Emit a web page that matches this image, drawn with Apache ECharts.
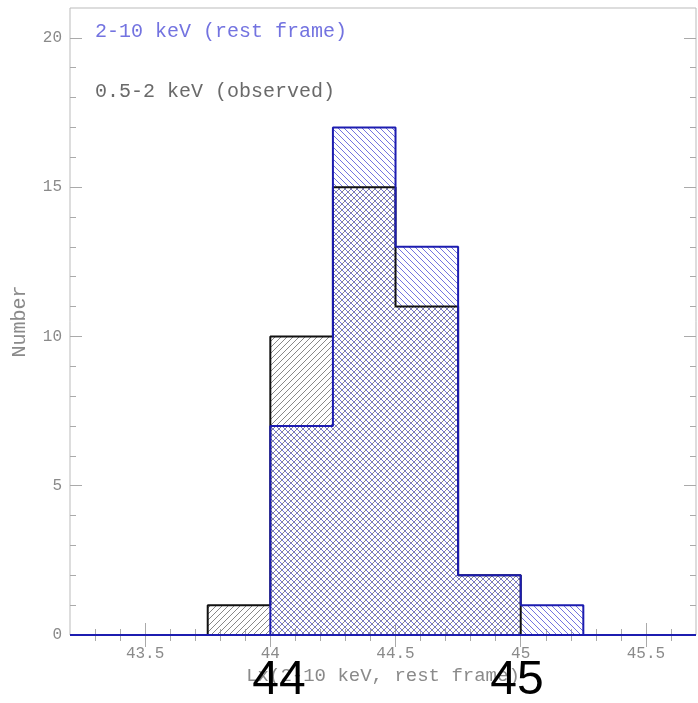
<!DOCTYPE html>
<html><head><meta charset="utf-8">
<script src="https://cdn.jsdelivr.net/npm/echarts@6/dist/echarts.min.js"></script>
<style>html,body{margin:0;padding:0;background:#fff}#c{width:698px;height:703px}</style>
</head><body><div id="c"></div>
<script>
// ---- data ----
const binLeft = [43.75, 44.0, 44.25, 44.5, 44.75, 45.0];
const binWidth = 0.25;
const observedCounts = [1, 10, 15, 11, 2, 0];   // 0.5-2 keV (observed)
const restFrameCounts = [0, 7, 17, 13, 2, 1];   // 2-10 keV (rest frame)
const xMajorTicks = [43.5, 44, 44.5, 45, 45.5];
const xMinorTicks = [43.3, 43.4, 43.5, 43.6, 43.7, 43.8, 43.9, 44, 44.1, 44.2, 44.3, 44.4, 44.5,
  44.6, 44.7, 44.8, 44.9, 45, 45.1, 45.2, 45.3, 45.4, 45.5, 45.6];
const yMajorTicks = [0, 5, 10, 15, 20];
const yMinorTicks = [1, 2, 3, 4, 5, 6, 7, 8, 9, 10, 11, 12, 13, 14, 15, 16, 17, 18, 19, 20];
const xMin = 43.2, xMax = 45.7, yMin = 0, yMax = 21;
const legendLabels = ['2-10 keV (rest frame)', '0.5-2 keV (observed)'];
const xTitle = 'Lx(2-10 keV, rest frame)';
const yTitle = 'Number';
const stray = ['44', '45'];

function stepPoints(counts) {
  const pts = [[xMin, 0]];
  let prev = 0;
  counts.forEach((c, i) => {
    const x0 = binLeft[i];
    pts.push([x0, prev]);
    pts.push([x0, c]);
    prev = c;
  });
  const lastRight = binLeft[binLeft.length - 1] + binWidth;
  pts.push([lastRight, prev]);
  pts.push([lastRight, 0]);
  pts.push([xMax, 0]);
  return pts;
}

function hatch(color, dir, size, lw) {
  const c = document.createElement('canvas');
  c.width = c.height = size;
  const g = c.getContext('2d');
  g.strokeStyle = color; g.lineWidth = lw;
  g.beginPath();
  if (dir > 0) {
    g.moveTo(0, size); g.lineTo(size, 0);
    g.moveTo(-size / 2, size / 2); g.lineTo(size / 2, -size / 2);
    g.moveTo(size / 2, size * 1.5); g.lineTo(size * 1.5, size / 2);
  } else {
    g.moveTo(0, 0); g.lineTo(size, size);
    g.moveTo(-size / 2, size / 2); g.lineTo(size / 2, size * 1.5);
    g.moveTo(size / 2, -size / 2); g.lineTo(size * 1.5, size / 2);
  }
  g.stroke();
  return c;
}

const BLUE = '#1c1cb0', BLACK = '#111';
const tickColor = '#aaa', labelColor = '#8a8a8a';
const mono = 'Liberation Mono';

function xAx(pos, ticks, len, labels) {
  return {
    type: 'value', min: xMin, max: xMax, position: pos,
    axisLine: { show: false },
    splitLine: { show: false },
    axisTick: { show: true, inside: true, length: len, customValues: ticks, lineStyle: { color: tickColor, width: 1 } },
    axisLabel: labels ? { show: true, customValues: xMajorTicks, color: labelColor, fontFamily: mono, fontSize: 16, margin: 11 } : { show: false },
    name: labels ? xTitle : '', nameLocation: 'middle', nameGap: 28,
    nameTextStyle: { color: labelColor, fontFamily: mono, fontSize: 19 }
  };
}
function yAx(pos, ticks, len, labels) {
  return {
    type: 'value', min: yMin, max: yMax, position: pos,
    axisLine: { show: false },
    splitLine: { show: false },
    axisTick: { show: true, inside: true, length: len, customValues: ticks, lineStyle: { color: tickColor, width: 1 } },
    axisLabel: labels ? { show: true, customValues: yMajorTicks, color: labelColor, fontFamily: mono, fontSize: 16, margin: 8 } : { show: false },
    name: labels ? yTitle : '', nameLocation: 'middle', nameGap: 40,
    nameTextStyle: { color: labelColor, fontFamily: mono, fontSize: 20 }
  };
}

const chart = echarts.init(document.getElementById('c'), null, { renderer: 'canvas' });
const blackPat = hatch('#888', 1, 6, 1);
const bluePat = hatch('#7474e0', -1, 6, 1);

chart.setOption({
  animation: false,
  backgroundColor: '#fff',
  grid: { left: 70, right: 2, top: 8, bottom: 68, show: true, borderColor: '#bbb', borderWidth: 1 },
  xAxis: [xAx('bottom', xMajorTicks, 12, true), xAx('bottom', xMinorTicks, 6, false),
          xAx('top', xMajorTicks, 12, false), xAx('top', xMinorTicks, 6, false)],
  yAxis: [yAx('left', yMajorTicks, 12, true), yAx('left', yMinorTicks, 6, false),
          yAx('right', yMajorTicks, 12, false), yAx('right', yMinorTicks, 6, false)],
  series: [
    { type: 'line', data: stepPoints(observedCounts), symbol: 'none', lineStyle: { width: 0, opacity: 0 },
      areaStyle: { color: { image: blackPat, repeat: 'repeat' }, opacity: 1 }, z: 1 },
    { type: 'line', data: stepPoints(restFrameCounts), symbol: 'none', lineStyle: { width: 0, opacity: 0 },
      areaStyle: { color: { image: bluePat, repeat: 'repeat' }, opacity: 1 }, z: 2 },
    { type: 'line', data: stepPoints(observedCounts), symbol: 'none', lineStyle: { width: 2, color: BLACK }, z: 3 },
    { type: 'line', data: stepPoints(restFrameCounts), symbol: 'none', lineStyle: { width: 2, color: BLUE }, z: 4 },
    { type: 'line', data: [[xMin, 0], [xMax, 0]], symbol: 'none', lineStyle: { width: 2, color: BLUE }, z: 5 }
  ],
  graphic: [
    { type: 'text', left: 95, top: 22, style: { text: legendLabels[0], fill: '#7373e0', font: '20px "Liberation Mono"' } },
    { type: 'text', left: 95, top: 82, style: { text: legendLabels[1], fill: '#6a6a6a', font: '20px "Liberation Mono"' } },
    { type: 'text', x: 279, y: 681, style: { text: stray[0], fill: '#000', font: '48px "Liberation Sans"', align: 'center', verticalAlign: 'middle' }, z: 100 },
    { type: 'text', x: 517, y: 681, style: { text: stray[1], fill: '#000', font: '48px "Liberation Sans"', align: 'center', verticalAlign: 'middle' }, z: 100 }
  ]
});
</script>
</body></html>
